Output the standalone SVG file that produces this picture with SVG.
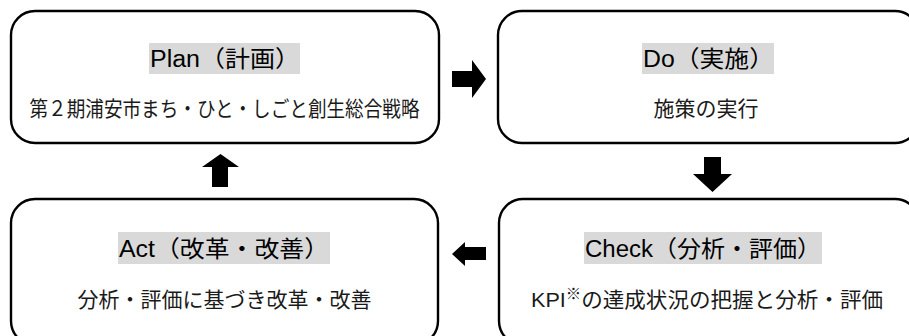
<svg xmlns="http://www.w3.org/2000/svg" width="909" height="336" viewBox="0 0 909 336">
<style>
.box{fill:#fff;stroke:#000;stroke-width:2.4}
.hl{fill:#d9d9d9}
.t{font-family:"Liberation Sans","Noto Sans CJK JP",sans-serif;font-size:23px;fill:#000}
.s{font-family:"Liberation Sans","Noto Sans CJK JP",sans-serif;font-size:21px;fill:#1a1a1a;text-anchor:middle}
.arr{fill:#000}
</style>
<rect width="909" height="336" fill="#fff"/>
<g id="plan">
<rect class="box" x="11" y="11" width="428" height="132" rx="24"/>
<rect class="hl" x="149" y="43" width="151" height="31"/>
<text class="t" x="150" y="67" textLength="150" lengthAdjust="spacingAndGlyphs">Plan（計画）</text>
<text class="s" x="224.5" y="116" textLength="390" lengthAdjust="spacingAndGlyphs">第２期浦安市まち・ひと・しごと創生総合戦略</text>
</g>
<g id="do">
<rect class="box" x="498" y="11" width="421" height="132" rx="24"/>
<rect class="hl" x="642" y="43" width="132" height="31"/>
<text class="t" x="643" y="67" textLength="131" lengthAdjust="spacingAndGlyphs">Do（実施）</text>
<text class="s" x="706" y="116">施策の実行</text>
</g>
<g id="check">
<rect class="box" x="499" y="199" width="420" height="146" rx="24"/>
<rect class="hl" x="584" y="232" width="238" height="32"/>
<text class="t" x="585" y="257" textLength="236" lengthAdjust="spacingAndGlyphs">Check（分析・評価）</text>
<text class="s" x="707" y="307" textLength="352" lengthAdjust="spacingAndGlyphs">KPI<tspan font-size="15" dy="-8">※</tspan><tspan dy="8">の達成状況の把握と分析・評価</tspan></text>
</g>
<g id="act">
<rect class="box" x="11" y="199" width="427" height="146" rx="24"/>
<rect class="hl" x="118" y="232" width="212" height="32"/>
<text class="t" x="119" y="257" textLength="210" lengthAdjust="spacingAndGlyphs">Act（改革・改善）</text>
<text class="s" x="224.5" y="307">分析・評価に基づき改革・改善</text>
</g>
<g id="connectors">
<polygon class="arr" points="452,71 472,71 472,60 486,79 472,98 472,87 452,87"/>
<polygon class="arr" points="704,157 721,157 721,174 732,174 712.5,192 693,174 704,174"/>
<polygon class="arr" points="486,247 465,247 465,242 452,254 465,266 465,260 486,260"/>
<polygon class="arr" points="212,187 228,187 228,167 239,167 220.5,154 202,167 212,167"/>
</g>
</svg>
